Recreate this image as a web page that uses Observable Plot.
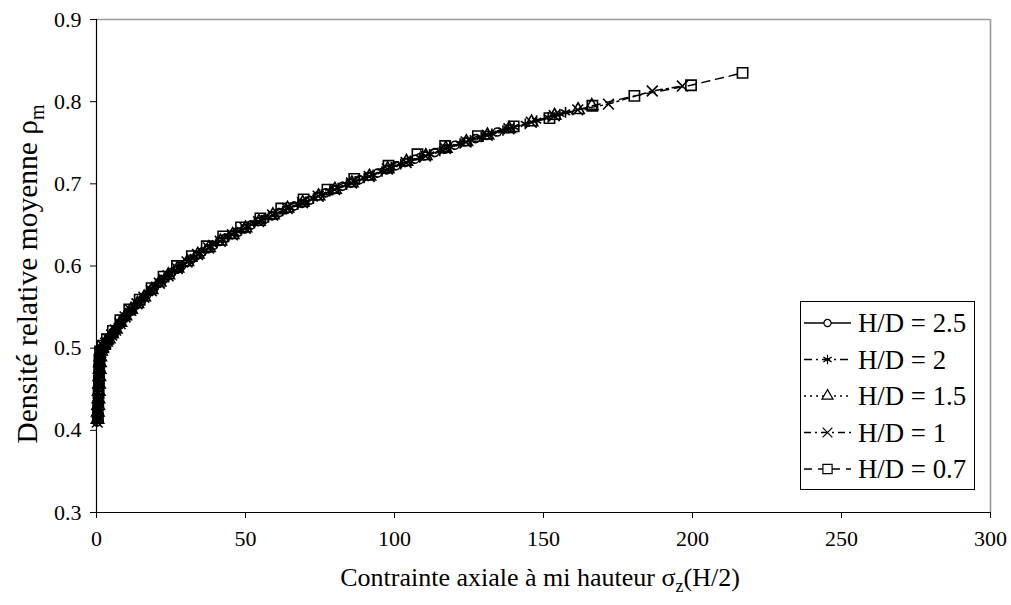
<!DOCTYPE html>
<html><head><meta charset="utf-8">
<script src="https://cdn.jsdelivr.net/npm/d3@7"></script>
<script src="https://cdn.jsdelivr.net/npm/@observablehq/plot@0.6"></script>
<style>body{margin:0;background:#fff} svg{display:block}</style>
</head><body><div id="chart"></div>
<script>
// ---- data: [sigma_z(H/2), rho_m] ----
const seriesNames = ["H/D = 2.5", "H/D = 2", "H/D = 1.5", "H/D = 1", "H/D = 0.7"];

const hd25 = [[0.20,0.410],[0.25,0.415],[0.30,0.420],[0.35,0.424],[0.40,0.428],[0.45,0.432],[0.50,0.436],[0.55,0.440],[0.60,0.444],[0.65,0.448],[0.70,0.452],[0.75,0.456],[0.80,0.460],[0.85,0.464],[0.90,0.468],[0.95,0.472],[1.00,0.476],[1.05,0.480],[1.10,0.483],[1.15,0.486],[1.20,0.489],[1.30,0.492],[1.40,0.495],[1.55,0.497],[1.70,0.498],[1.95,0.500],[2.2,0.501],[2.5,0.503],[2.9,0.505],[3.3,0.508],[3.8,0.510],[4.3,0.512],[4.9,0.515],[5.5,0.518],[6.2,0.522],[6.9,0.525],[7.7,0.529],[8.5,0.533],[9.4,0.537],[10.3,0.541],[11.3,0.545],[12.3,0.549],[13.4,0.553],[14.5,0.557],[15.7,0.561],[16.9,0.565],[18.2,0.569],[19.5,0.574],[20.9,0.579],[22.3,0.583],[23.8,0.588],[25.3,0.592],[26.9,0.596],[28.5,0.600],[30.2,0.604],[31.9,0.608],[33.7,0.613],[35.5,0.617],[37.4,0.621],[39.3,0.625],[41.3,0.630],[43.3,0.634],[45.4,0.638],[47.5,0.641],[49.7,0.645],[51.9,0.650],[54.2,0.654],[56.5,0.657],[58.9,0.661],[61.3,0.665],[63.8,0.669],[66.3,0.673],[68.9,0.676],[71.5,0.680],[74.2,0.685],[76.9,0.689],[79.7,0.693],[82.5,0.697],[85.4,0.701],[88.3,0.705],[91.3,0.709],[94.3,0.713],[97.4,0.717],[100.5,0.722],[103.7,0.726],[106.9,0.730],[110.2,0.734],[113.5,0.738],[116.9,0.742],[120.3,0.747],[123.8,0.751],[127.3,0.755],[130.9,0.759],[134.5,0.763],[138.2,0.767]];

const hd2 = [[0.22,0.412],[0.28,0.418],[0.33,0.422],[0.38,0.426],[0.43,0.430],[0.48,0.434],[0.53,0.438],[0.58,0.442],[0.63,0.446],[0.68,0.450],[0.73,0.454],[0.78,0.458],[0.83,0.462],[0.88,0.466],[0.93,0.470],[0.98,0.474],[1.03,0.478],[1.08,0.482],[1.13,0.485],[1.25,0.490],[1.35,0.494],[1.48,0.496],[1.62,0.498],[1.82,0.499],[2.1,0.501],[2.35,0.502],[2.7,0.504],[3.1,0.507],[3.5,0.509],[4.0,0.511],[4.6,0.514],[5.2,0.517],[5.8,0.520],[6.5,0.523],[7.3,0.527],[8.1,0.531],[8.9,0.535],[9.8,0.539],[10.8,0.543],[11.8,0.547],[12.8,0.551],[13.9,0.555],[15.1,0.559],[16.3,0.563],[17.5,0.567],[18.8,0.572],[20.2,0.577],[21.6,0.581],[23.0,0.586],[24.5,0.590],[26.1,0.594],[27.7,0.598],[29.3,0.602],[31.0,0.606],[32.8,0.611],[34.6,0.615],[36.4,0.619],[38.3,0.623],[40.3,0.628],[42.3,0.632],[44.3,0.636],[46.4,0.640],[48.6,0.644],[50.8,0.648],[53.0,0.652],[55.3,0.656],[57.7,0.659],[60.1,0.663],[62.5,0.667],[65.0,0.671],[67.6,0.675],[70.2,0.678],[72.8,0.682],[75.5,0.687],[78.3,0.691],[81.1,0.695],[83.9,0.699],[86.8,0.703],[89.8,0.707],[92.8,0.711],[95.8,0.715],[98.9,0.720],[102.1,0.724],[105.3,0.728],[108.5,0.732],[111.8,0.736],[115.2,0.740],[118.6,0.745],[122.0,0.749],[125.5,0.753],[129.1,0.757],[132.7,0.761],[136.4,0.765],[140.1,0.769],[143.9,0.773],[147.7,0.777],[151.6,0.781],[155.5,0.785],[157.4,0.787]];

const hd15 = [[0.35,0.413],[0.45,0.422],[0.55,0.430],[0.65,0.438],[0.75,0.447],[0.85,0.456],[0.95,0.465],[1.05,0.474],[1.15,0.482],[1.25,0.489],[1.5,0.496],[1.9,0.499],[2.5,0.503],[3.2,0.507],[4.1,0.511],[5.2,0.517],[6.5,0.523],[8.0,0.531],[9.7,0.539],[11.6,0.547],[13.7,0.554],[16.0,0.562],[18.5,0.571],[21.2,0.580],[24.1,0.589],[27.2,0.597],[30.5,0.605],[34.0,0.614],[37.7,0.622],[41.6,0.630],[45.7,0.638],[50.0,0.646],[54.5,0.654],[59.2,0.662],[64.1,0.670],[69.2,0.677],[74.5,0.685],[80.0,0.693],[85.7,0.701],[91.6,0.709],[97.7,0.718],[104.0,0.727],[110.5,0.734],[117.2,0.743],[124.1,0.751],[131.2,0.759],[138.5,0.767],[146.0,0.775],[153.7,0.783],[161.6,0.790],[166.2,0.795]];

const hd1 = [[0.25,0.410],[0.35,0.418],[0.45,0.427],[0.55,0.436],[0.65,0.445],[0.75,0.454],[0.85,0.463],[0.95,0.471],[1.05,0.479],[1.15,0.486],[1.3,0.492],[1.45,0.495],[1.8,0.498],[2.4,0.502],[3.1,0.506],[4.0,0.511],[5.1,0.516],[6.4,0.522],[7.9,0.530],[9.6,0.538],[11.5,0.546],[13.6,0.554],[15.9,0.562],[18.4,0.570],[21.1,0.579],[24.0,0.588],[27.1,0.597],[30.4,0.605],[33.9,0.614],[37.6,0.622],[41.5,0.630],[45.6,0.638],[49.9,0.646],[54.4,0.654],[59.1,0.662],[64.0,0.670],[69.1,0.677],[74.4,0.685],[79.9,0.693],[85.6,0.701],[91.5,0.709],[97.6,0.718],[103.9,0.726],[110.4,0.734],[117.1,0.743],[124.0,0.751],[131.1,0.759],[138.4,0.767],[145.9,0.775],[153.6,0.783],[161.5,0.790],[171.8,0.797],[186.5,0.813],[196.6,0.819]];

const hd07 = [[0.5,0.415],[0.6,0.430],[0.7,0.445],[0.8,0.460],[0.9,0.474],[1.0,0.486],[1.2,0.496],[2.0,0.503],[3.5,0.511],[5.5,0.521],[8.0,0.534],[11.0,0.547],[14.5,0.559],[18.5,0.573],[22.5,0.587],[27.0,0.600],[32.0,0.612],[37.0,0.624],[42.5,0.636],[48.5,0.647],[55.0,0.658],[62.0,0.670],[69.5,0.681],[77.5,0.693],[86.5,0.706],[98.0,0.722],[107.7,0.736],[117.0,0.746],[128.0,0.758],[140.0,0.770],[152.0,0.780],[166.4,0.795],[180.5,0.807],[199.5,0.820],[216.8,0.835]];

const xTicks = [0, 50, 100, 150, 200, 250, 300];
const yTicks = [0.3, 0.4, 0.5, 0.6, 0.7, 0.8, 0.9];
const xTitleMain = "Contrainte axiale à mi hauteur σ", xTitleSub = "z", xTitleEnd = "(H/2)";
const yTitleMain = "Densité relative moyenne ρ", yTitleSub = "m";

// ---- build table ----
const seriesData = [hd25, hd2, hd15, hd1, hd07];
const table = seriesNames.map((name, i) => seriesData[i].map(([s, r]) => ({series: name, sigma: s, rho: r})));

// ---- styles ----
const looks = [
  {symbol: "circle", r: 4.0, dash: null},
  {symbol: "asterisk", r: 5.0, dash: "8,4,2,4"},
  {symbol: "triangle", r: 4.6, dash: "2,4"},
  {symbol: "times", r: 5.0, dash: "7,4,2,4"},
  {symbol: "square", r: 5.8, dash: "8,6"}
];

const W = 1011, H = 605;
const marks = [
  Plot.ruleY([0.9], {stroke: "#9a9a9a", strokeWidth: 1.6}),
  Plot.ruleX([300], {stroke: "#9a9a9a", strokeWidth: 1.6}),
  Plot.axisX({ticks: xTicks, tickSize: 6, tickPadding: 12, tickFormat: d => String(d), label: null}),
  Plot.axisY({ticks: yTicks, tickSize: 6, tickPadding: 9, tickFormat: d3.format(".1f"), label: null}),
  Plot.ruleX([0], {stroke: "black", strokeWidth: 1.2}),
  Plot.ruleY([0.3], {stroke: "black", strokeWidth: 1.2})
];
table.forEach((rows, i) => {
  const lk = looks[i];
  marks.push(Plot.line(rows, {x: "sigma", y: "rho", stroke: "black", strokeWidth: 1.5, strokeDasharray: lk.dash}));
  marks.push(Plot.dot(rows, {x: "sigma", y: "rho", symbol: lk.symbol, r: lk.r, stroke: "black", fill: "none", strokeWidth: 1.6}));
});

const chart = Plot.plot({
  width: W, height: H,
  marginLeft: 96, marginRight: 21, marginTop: 19, marginBottom: 93,
  x: {domain: [0, 300]},
  y: {domain: [0.3, 0.9]},
  style: {fontFamily: "'Liberation Serif', 'Times New Roman', serif", fontSize: "22px", color: "black", background: "white"},
  marks
});

const svg = d3.select(chart);
const ff = "'Liberation Serif', 'Times New Roman', serif";

// axis titles with subscripts
const xt = svg.append("text").attr("x", 540).attr("y", 586).attr("text-anchor", "middle")
  .attr("font-family", ff).attr("font-size", 26).attr("fill", "black");
xt.append("tspan").text(xTitleMain);
xt.append("tspan").attr("font-size", 18).attr("dy", 6).text(xTitleSub);
xt.append("tspan").attr("dy", -6).text(xTitleEnd);

const yt = svg.append("text").attr("transform", "translate(37,274) rotate(-90)").attr("text-anchor", "middle")
  .attr("font-family", ff).attr("font-size", 29.5).attr("fill", "black");
yt.append("tspan").text(yTitleMain);
yt.append("tspan").attr("font-size", 20).attr("dy", 7).text(yTitleSub);

// legend
const lg = svg.append("g").attr("text-anchor", "start");
lg.append("rect").attr("x", 800.5).attr("y", 301.5).attr("width", 174).attr("height", 188)
  .attr("fill", "white").attr("stroke", "black").attr("stroke-width", 1);
const rowY = [323, 359.5, 396, 432.5, 469];
const symMap = {circle: d3.symbolCircle, asterisk: d3.symbolAsterisk, triangle: d3.symbolTriangle, times: d3.symbolTimes, square: d3.symbolSquare};
seriesNames.forEach((name, i) => {
  const lk = looks[i];
  const y = rowY[i];
  lg.append("line").attr("x1", 804).attr("x2", 851).attr("y1", y).attr("y2", y)
    .attr("stroke", "black").attr("stroke-width", 1.3).attr("stroke-dasharray", lk.dash);
  lg.append("path").attr("transform", `translate(827.5,${y})`)
    .attr("d", d3.symbol(symMap[lk.symbol], Math.PI * lk.r * lk.r * 0.8)())
    .attr("fill", "white").attr("stroke", "black").attr("stroke-width", 1.2);
  lg.append("text").attr("x", 858).attr("y", y).attr("dy", "0.35em").attr("text-anchor", "start")
    .attr("font-family", ff).attr("font-size", 26.8).attr("fill", "black").text(name);
});

document.getElementById("chart").appendChild(chart);
</script>
</body></html>
